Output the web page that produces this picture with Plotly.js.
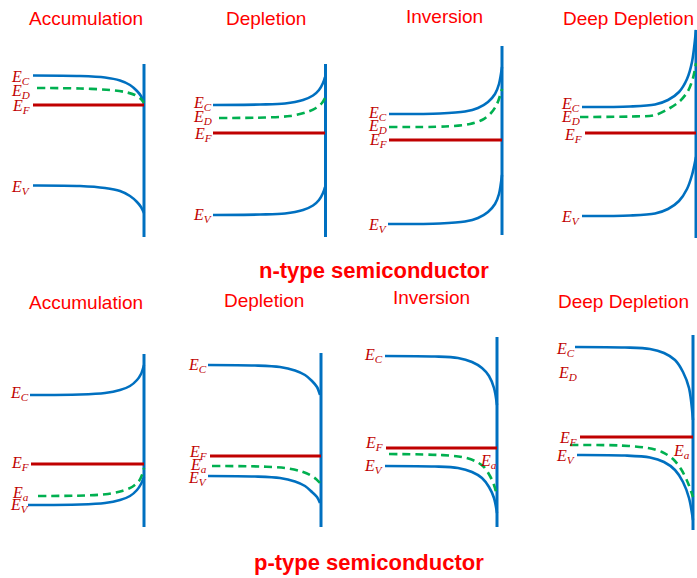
<!DOCTYPE html>
<html><head><meta charset="utf-8">
<script src="https://cdn.plot.ly/plotly-3.0.1.min.js"></script>
<style>html,body{margin:0;padding:0;background:#fff}#chart{width:697px;height:578px}</style>
</head><body><div id="chart"></div>
<script>
// ---------- panel titles ----------
const panelTitles = ["Accumulation","Depletion","Inversion","Deep Depletion","Accumulation","Depletion","Inversion","Deep Depletion"];
const panelTitleX = [86, 266, 444, 628, 86, 264, 431, 623];
const panelTitleY = [18, 18, 16, 18, 302, 300, 297, 301];
const groupTitles = ["n-type semiconductor", "p-type semiconductor"];
const groupTitleX = [374, 369];
const groupTitleY = [270, 562];

// ---------- surface (wall) lines ----------
const wallX    = [144, 325.5, 502, 696, 144, 321, 497, 693];
const wallTop  = [64, 64, 46, 30, 354, 353, 337, 335];
const wallBot  = [237, 237, 235, 238, 527, 527, 527, 530];

// ---------- n-type: Accumulation ----------
const nAccEcX = [33, 80, 105, 120, 130, 137, 141, 144];
const nAccEcY = [75.5, 76, 77.5, 80.5, 85, 91, 96, 102];
const nAccEdX = [37, 80, 110, 125, 135, 141, 144];
const nAccEdY = [88, 88.5, 90, 92, 95, 99, 103];
const nAccEfX = [33, 144];
const nAccEfY = [105, 105];
const nAccEvX = [33, 80, 105, 120, 130, 137, 141, 144];
const nAccEvY = [185.5, 186, 188, 191, 196, 202, 207, 213];

// ---------- n-type: Depletion ----------
const nDepEcX = [213, 260, 285, 303, 313, 319, 323, 325];
const nDepEcY = [105, 104.5, 103.5, 100, 95.5, 90, 83, 77];
const nDepEdX = [219, 265, 290, 307, 316, 322, 325];
const nDepEdY = [118, 117.5, 116, 112, 108, 103, 98];
const nDepEfX = [213, 325];
const nDepEfY = [133, 133];
const nDepEvX = [213, 260, 285, 303, 313, 319, 323, 325];
const nDepEvY = [215, 214.5, 213.5, 210, 205.5, 200, 193, 187];

// ---------- n-type: Inversion ----------
const nInvEcX = [389, 440, 465, 478, 488, 495, 499, 502];
const nInvEcY = [114, 113.5, 111.5, 108, 102, 94, 84, 67];
const nInvEdX = [389, 445, 470, 482, 491, 497, 502];
const nInvEdY = [127, 126.5, 124, 120, 113, 104, 89];
const nInvEfX = [389, 502];
const nInvEfY = [140, 140];
const nInvEvX = [388, 440, 465, 478, 488, 495, 499, 502];
const nInvEvY = [224, 223.5, 221.5, 218, 212, 204, 194, 175];

// ---------- n-type: Deep Depletion ----------
const nDeepEcX = [582, 630, 655, 668, 679, 687, 692, 696];
const nDeepEcY = [107, 106.5, 104.5, 100, 92, 79, 62, 30];
const nDeepEdX = [580, 630, 655, 670, 680, 688, 693, 696];
const nDeepEdY = [117, 116.5, 115, 108, 101, 91, 78, 63];
const nDeepEfX = [585, 696];
const nDeepEfY = [133, 133];
const nDeepEvX = [582, 630, 655, 668, 679, 687, 692, 696];
const nDeepEvY = [216, 215.5, 213.5, 209, 201, 189, 175, 157];

// ---------- p-type: Accumulation ----------
const pAccEcX = [30, 80, 105, 120, 130, 137, 141, 144];
const pAccEcY = [395, 394.5, 393, 390, 386, 380, 374, 365];
const pAccEaX = [38, 85, 108, 122, 132, 139, 142, 144];
const pAccEaY = [496, 495.5, 494, 491, 487, 481, 475, 468];
const pAccEfX = [31, 144];
const pAccEfY = [464, 464];
const pAccEvX = [28, 80, 105, 120, 130, 137, 141, 144];
const pAccEvY = [505, 504.5, 503, 500, 496, 490, 484, 477];

// ---------- p-type: Depletion ----------
const pDepEcX = [208, 255, 280, 295, 305, 312, 317, 320];
const pDepEcY = [365, 365.5, 367, 370.5, 375, 381, 387, 395];
const pDepEaX = [212, 260, 285, 300, 310, 316, 320];
const pDepEaY = [466, 466.5, 468, 471, 475, 479, 483];
const pDepEfX = [210, 321];
const pDepEfY = [456, 456];
const pDepEvX = [208, 255, 280, 295, 305, 312, 317, 320];
const pDepEvY = [476, 476.5, 478, 481.5, 486, 492, 497, 503];

// ---------- p-type: Inversion ----------
const pInvEcX = [385, 435, 458, 472, 482, 489, 494, 497];
const pInvEcY = [356, 356.5, 358, 362, 368, 376, 388, 405];
const pInvEaX = [389, 440, 462, 475, 484, 490, 494, 497];
const pInvEaY = [454, 455, 457, 461, 467, 476, 485, 496];
const pInvEfX = [386, 497];
const pInvEfY = [448, 448];
const pInvEvX = [385, 435, 458, 472, 482, 489, 494, 497];
const pInvEvY = [466, 466.5, 468, 472, 478, 487, 498, 513];

// ---------- p-type: Deep Depletion ----------
const pDeepEcX = [575, 625, 650, 664, 675, 683, 689, 693];
const pDeepEcY = [347, 347.5, 349, 353, 360, 372, 388, 420];
const pDeepEaX = [570, 620, 648, 662, 673, 681, 688, 693];
const pDeepEaY = [445, 445.5, 448, 452, 459, 469, 483, 497];
const pDeepEfX = [580, 693];
const pDeepEfY = [437, 437];
const pDeepEvX = [577, 625, 650, 664, 675, 683, 689, 693];
const pDeepEvY = [455, 455.5, 457.5, 462, 470, 482, 498, 520];

// ---------- energy labels ----------
const levelLabelText = [
  "C","D","F","V",  "C","D","F","V",  "C","D","F","V",  "C","D","F","V",
  "C","F","a","V",  "C","F","a","V",  "C","F","V","a",  "C","D","F","V","a"];
const levelLabelX = [
  32,32,32,32,  214,214,214,214,  389,389,389,389,  582,582,584,582,
  31,31,31,31,  209,209,209,209,  385,385,385,499,  577,579,579,577,692];
const levelLabelY = [
  77,91,106,187,  103,117,134,215,  113,126,140,225,  104,117,135,217,
  393,463,493,505,  365,452,465,478,  355,443,466,461,  349,373,438,456,451];

// ---------- colours ----------
const BLUE = "#0070C0", GREEN = "#00B050", DARKRED = "#C00000", RED = "#FF0000";

const traces = [];
function band(x, y, color, width, dash) {
  traces.push({x: x, y: y, type: "scatter", mode: "lines", hoverinfo: "skip",
    line: {color: color, width: width, dash: dash || "solid", shape: x.length > 2 ? "spline" : "linear", smoothing: 0.9}});
}
// walls
for (let i = 0; i < wallX.length; i++) {
  band([wallX[i], wallX[i]], [wallTop[i], wallBot[i]], BLUE, 3);
}
const bandSets = [
  [nAccEcX, nAccEcY, nAccEdX, nAccEdY, nAccEfX, nAccEfY, nAccEvX, nAccEvY],
  [nDepEcX, nDepEcY, nDepEdX, nDepEdY, nDepEfX, nDepEfY, nDepEvX, nDepEvY],
  [nInvEcX, nInvEcY, nInvEdX, nInvEdY, nInvEfX, nInvEfY, nInvEvX, nInvEvY],
  [nDeepEcX, nDeepEcY, nDeepEdX, nDeepEdY, nDeepEfX, nDeepEfY, nDeepEvX, nDeepEvY],
  [pAccEcX, pAccEcY, pAccEaX, pAccEaY, pAccEfX, pAccEfY, pAccEvX, pAccEvY],
  [pDepEcX, pDepEcY, pDepEaX, pDepEaY, pDepEfX, pDepEfY, pDepEvX, pDepEvY],
  [pInvEcX, pInvEcY, pInvEaX, pInvEaY, pInvEfX, pInvEfY, pInvEvX, pInvEvY],
  [pDeepEcX, pDeepEcY, pDeepEaX, pDeepEaY, pDeepEfX, pDeepEfY, pDeepEvX, pDeepEvY]
];
bandSets.forEach(s => {
  band(s[0], s[1], BLUE, 2.6);
  band(s[2], s[3], GREEN, 2.6, "8px,5px");
  band(s[4], s[5], DARKRED, 3.2);
  band(s[6], s[7], BLUE, 2.6);
});

const annotations = [];
for (let i = 0; i < panelTitles.length; i++) {
  annotations.push({x: panelTitleX[i], y: panelTitleY[i], xref: "x", yref: "y", text: panelTitles[i],
    showarrow: false, xanchor: "center", yanchor: "middle",
    font: {family: "Liberation Sans, Arial, sans-serif", size: 19, color: RED}});
}
for (let i = 0; i < groupTitles.length; i++) {
  annotations.push({x: groupTitleX[i], y: groupTitleY[i], xref: "x", yref: "y", text: "<b>" + groupTitles[i] + "</b>",
    showarrow: false, xanchor: "center", yanchor: "middle",
    font: {family: "Liberation Sans, Arial, sans-serif", size: 22, color: RED}});
}
for (let i = 0; i < levelLabelText.length; i++) {
  annotations.push({x: levelLabelX[i], y: levelLabelY[i], xref: "x", yref: "y",
    text: "<i>E<sub>" + levelLabelText[i] + "</sub></i>",
    showarrow: false, xanchor: "right", yanchor: "middle",
    font: {family: "Liberation Serif, DejaVu Serif, serif", size: 16, color: DARKRED}});
}

const layout = {
  width: 697, height: 578, margin: {l: 0, r: 0, t: 0, b: 0},
  paper_bgcolor: "#ffffff", plot_bgcolor: "#ffffff", showlegend: false,
  xaxis: {range: [0, 697], visible: false, fixedrange: true},
  yaxis: {range: [578, 0], visible: false, fixedrange: true},
  annotations: annotations
};
Plotly.newPlot("chart", traces, layout, {staticPlot: true, displayModeBar: false});
</script>
</body></html>
